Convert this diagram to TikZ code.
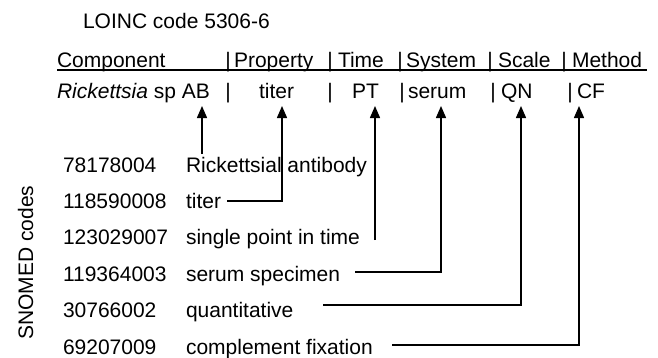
\documentclass[tikz,border=0pt]{standalone}
\usepackage{fontspec}
\setmainfont{Liberation Sans}
\usetikzlibrary{arrows.meta}
\begin{document}
\begin{tikzpicture}[x=1pt,y=-1pt,
  txt/.style={inner sep=0pt,outer sep=0pt,anchor=base west,font=\fontsize{21}{25}\selectfont},
  barx/.style={inner sep=0pt,outer sep=0pt,anchor=base,font=\fontsize{21}{25}\selectfont},
  conn/.style={line width=1.5pt,-{Triangle[width=10pt,length=12pt]}},
  uline/.style={line width=1.3pt}]
\useasboundingbox[fill=white] (0,0) rectangle (658,357);
% title
\node[txt] (title) at (83,28) {LOINC code 5306-6};
% header
\node[txt] (hcomp) at (57,67) {Component};
\node[barx] (hb1) at (228,67) {|};
\node[txt] (hprop) at (234,67) {Property};
\node[barx] (hb2) at (330,67) {|};
\node[txt] (htime) at (338,67) {Time};
\node[barx] (hb3) at (400,67) {|};
\node[txt] (hsys) at (406,67) {System};
\node[barx] (hb4) at (490,67) {|};
\node[txt] (hscale) at (498,67) {Scale};
\node[barx] (hb5) at (564,67) {|};
\node[txt] (hmeth) at (572,67) {Method};
\coordinate (ulA) at (57,70);
\coordinate (ulB) at (647,70);
\draw[uline] (ulA) -- (ulB);
% values
\node[txt] (vcomp) at (57,98) {\textit{Rickettsia} sp AB};
\node[barx] (vb1) at (228,98) {|};
\node[txt] (vprop) at (259,98) {titer};
\node[barx] (vb2) at (330,98) {|};
\node[txt] (vtime) at (352,98) {PT};
\node[barx] (vb3) at (402,98) {|};
\node[txt] (vsys) at (408,98) {serum};
\node[barx] (vb4) at (493,98) {|};
\node[txt] (vscale) at (501,98) {QN};
\node[barx] (vb5) at (570,98) {|};
\node[txt] (vmeth) at (577,98) {CF};
% SNOMED codes
\node[barx,rotate=90] (snomed) at (33,262.5) {SNOMED codes};
\node[txt] (c1) at (63,172) {78178004};
\node[txt] (d1) at (186,172) {Rickettsial antibody};
\node[txt] (c2) at (63,208.4) {118590008};
\node[txt] (d2) at (186,208.4) {titer};
\node[txt] (c3) at (63,244.8) {123029007};
\node[txt] (d3) at (186,244.8) {single point in time};
\node[txt] (c4) at (63,281.2) {119364003};
\node[txt] (d4) at (186,281.2) {serum specimen};
\node[txt] (c5) at (63,317.6) {30766002};
\node[txt] (d5) at (186,317.6) {quantitative};
\node[txt] (c6) at (63,354) {69207009};
\node[txt] (d6) at (186,354) {complement fixation};
% connector ends
\coordinate (t1) at (202,106);
\coordinate (t2) at (282,106);
\coordinate (t3) at (375,106);
\coordinate (t4) at (441,106);
\coordinate (t5) at (521,106);
\coordinate (t6) at (579,106);
\coordinate (s1) at (202,154);
\coordinate (s2) at (227,201);
\coordinate (s3) at (375,240);
\coordinate (s4) at (355,272);
\coordinate (s5) at (323,305);
\coordinate (s6) at (392,345);
\draw[conn] (s1) -- (t1);
\draw[conn] (s2) -| (t2);
\draw[conn] (s3) -- (t3);
\draw[conn] (s4) -| (t4);
\draw[conn] (s5) -| (t5);
\draw[conn] (s6) -| (t6);
\end{tikzpicture}
\end{document}
